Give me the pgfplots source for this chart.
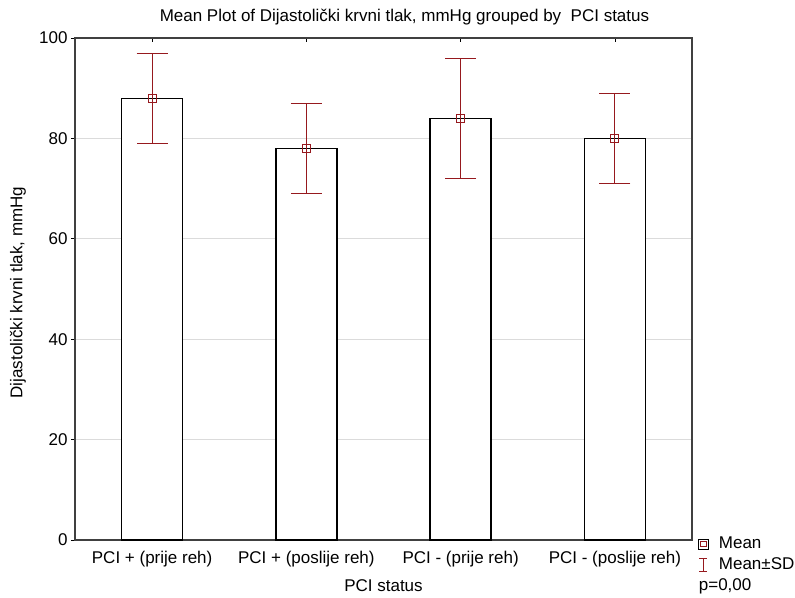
\documentclass[border=0pt]{standalone}
\usepackage{pgfplots}
\pgfplotsset{compat=1.18}
\usepackage{fontspec}
\setmainfont{Liberation Sans}
\definecolor{errred}{RGB}{150,25,30}
\newcommand{\fs}{\fontsize{17}{20}\selectfont}
\pgfplotstableread{
x y e
0 88 9
1 78 9
2 84 12
3 80 9
}\datatable
\begin{document}
\begin{tikzpicture}
\path[use as bounding box] (-75pt,-57pt) rectangle (720pt,540pt);
\begin{axis}[
  at={(0pt,0pt)}, anchor=south west,
  scale only axis, width=617pt, height=502pt,
  xmin=-0.5, xmax=3.5, ymin=0, ymax=100,
  xtick={0,1,2,3},
  xticklabels={PCI + (prije reh), PCI + (poslije reh), PCI - (prije reh), PCI - (poslije reh)},
  ytick={0,20,40,60,80,100},
  xtick pos=both, xtick align=inside,
  ytick pos=left, ytick align=outside,
  major tick length=4pt,
  tick style={black, line width=0.6pt},
  ymajorgrids, grid style={gray!28, line width=0.6pt},
  axis line style={draw=black!75, line width=1.3pt},
  /pgf/number format/assume math mode=true,
  tick label style={font=\fs},
  xticklabel style={yshift=-8pt},
  title={Mean Plot of Dijastolički krvni tlak, mmHg grouped by\ \ PCI status},
  title style={font=\fs, at={(axis description cs:0.534,1.029)}, anchor=center},
  xlabel={PCI status},
  xlabel style={font=\fs, at={(axis description cs:0.5,-0.09)}, anchor=center},
  ylabel={Dijastolički krvni tlak, mmHg},
  ylabel style={font=\fs, at={(axis description cs:-0.0925,0.493)}, anchor=center},
  legend style={at={(rel axis cs:1,0)}, anchor=north west, xshift=6pt, yshift=4pt,
    draw=none, fill=none, inner sep=0pt, outer sep=0pt, row sep=5pt, column sep=10pt,
    font=\fs, nodes={inner sep=0pt, text height=12pt, text depth=4pt}},
  legend cell align=left,
]
\addplot[ybar, bar width=61pt, bar shift=0pt, fill=white, draw=black, line width=1.3pt, forget plot]
  table[x=x, y=y] {\datatable};
\addplot[only marks, mark=square, mark size=4pt, mark options={draw=errred, line width=0.9pt, fill=none}, forget plot,
  error bars/.cd, y dir=both, y explicit,
  error bar style={errred, line width=0.9pt},
  error mark options={errred, rotate=90, mark size=15.5pt, line width=0.9pt}]
  table[x=x, y=y, y error=e] {\datatable};
\addlegendimage{legend image code/.code={
  \draw[black, line width=0.9pt] (0pt,-5pt) rectangle (10pt,5pt);
  \draw[errred, line width=0.9pt] (2.2pt,-2.8pt) rectangle (7.8pt,2.8pt);}}
\addlegendentry{Mean}
\addlegendimage{legend image code/.code={
  \draw[errred, line width=0.9pt] (5pt,-6.5pt) -- (5pt,6.5pt);
  \draw[errred, line width=0.9pt] (1pt,-6.5pt) -- (9pt,-6.5pt) (1pt,6.5pt) -- (9pt,6.5pt);}}
\addlegendentry{Mean±SD}
\addlegendimage{empty legend}
\addlegendentry{\hspace{-20pt}p=0,00}
\end{axis}
\end{tikzpicture}
\end{document}
